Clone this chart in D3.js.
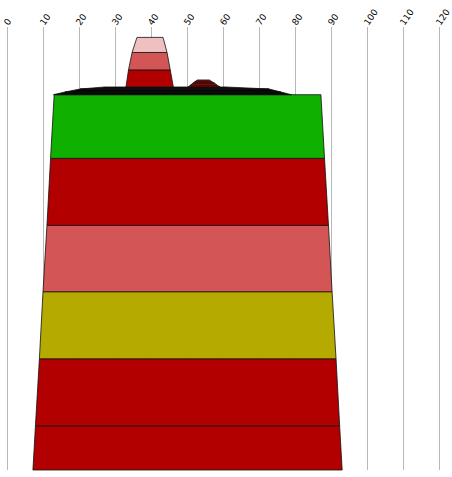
<!DOCTYPE html>
<html>
<head>
<meta charset="utf-8">
<script src="https://cdn.jsdelivr.net/npm/d3@7"></script>
<style>
  html, body { margin: 0; padding: 0; background: #fff; }
  svg { display: block; }
</style>
</head>
<body>
<svg id="chart" width="452" height="477"></svg>
<script>
// ---- data ----
const tickValues = [0, 10, 20, 30, 40, 50, 60, 70, 80, 90, 100, 110, 120];

// main block: 6 stacked bands (bottom to top)
const mainLevels = [0, 6.6, 16.6, 26.6, 36.5, 46.5, 56.0];
const mainLeft   = [7.2, 7.9, 9.0, 10.0, 11.1, 12.1, 13.1];
const mainRight  = [93.1, 92.4, 91.4, 90.3, 89.3, 88.2, 87.2];

// thin dark layers on top of the main block
const capLevels = [56.0, 56.4, 56.85, 57.15];
const capLeft   = [12.9, 16.1, 20.3, 27.2];
const capRight  = [79.0, 76.1, 72.8, 60.8];

// tower around 40
const towerLevels = [57.15, 59.7, 62.3, 64.55];
const towerLeft   = [33.05, 33.75, 34.75, 36.1];
const towerRight  = [46.2, 45.35, 44.45, 43.35];

// small bump around 55
const bumpLevels = [57.15, 57.4, 57.7, 57.95, 58.2];
const bumpLeft   = [50.3, 50.9, 51.6, 52.2, 52.9];
const bumpRight  = [59.2, 58.4, 57.7, 56.9, 56.2];

// ---- palettes ----
const mainColors  = ["#b20000", "#b20000", "#b4aa00", "#d35555", "#b20000", "#10b000"];
const capColors   = ["#000000", "#050505", "#0a0a0a"];
const towerColors = ["#b20000", "#d35555", "#f0c0c0"];
const bumpColors  = ["#8a0000", "#b20000", "#8a0000", "#b20000"];

// ---- layout ----
const W = 452, H = 477;
const gridTop = 27, gridBottom = 470;
const x = d3.scaleLinear().domain([0, 120]).range([7, 439]);
const y = d3.scaleLinear().domain([0, 66.4]).range([470, 25]);

const svg = d3.select("#chart");

// grid + labels
const axis = d3.axisTop(x)
  .tickValues(tickValues)
  .tickSize(-(gridBottom - gridTop))
  .tickFormat(d3.format("d"));

const ag = svg.append("g")
  .attr("transform", `translate(0,${gridTop})`)
  .call(axis);
ag.select(".domain").remove();
ag.selectAll(".tick line").attr("stroke", "#b8b8b8").attr("stroke-width", 1);
ag.selectAll(".tick text")
  .attr("x", 0).attr("y", 0).attr("dy", null)
  .attr("text-anchor", "start")
  .attr("transform", "translate(1,-1) rotate(-55)")
  .attr("fill", "#000")
  .style("font-family", "'DejaVu Sans', Verdana, sans-serif")
  .style("font-size", "9px");

const area = d3.area()
  .y(d => y(d.v))
  .x0(d => x(d.l))
  .x1(d => x(d.r));

function drawStack(levels, left, right, colors, cls) {
  const bands = colors.map((c, i) => ({
    color: c,
    pts: [
      { v: levels[i],     l: left[i],     r: right[i] },
      { v: levels[i + 1], l: left[i + 1], r: right[i + 1] }
    ]
  }));
  svg.append("g").attr("class", cls)
    .selectAll("path")
    .data(bands)
    .join("path")
    .attr("d", d => area(d.pts))
    .attr("fill", d => d.color)
    .attr("stroke", "#111")
    .attr("stroke-opacity", 0.8)
    .attr("stroke-width", 1);
}

drawStack(mainLevels, mainLeft, mainRight, mainColors, "main");
drawStack(capLevels, capLeft, capRight, capColors, "cap");
drawStack(towerLevels, towerLeft, towerRight, towerColors, "tower");
drawStack(bumpLevels, bumpLeft, bumpRight, bumpColors, "bump");
</script>
</body>
</html>
